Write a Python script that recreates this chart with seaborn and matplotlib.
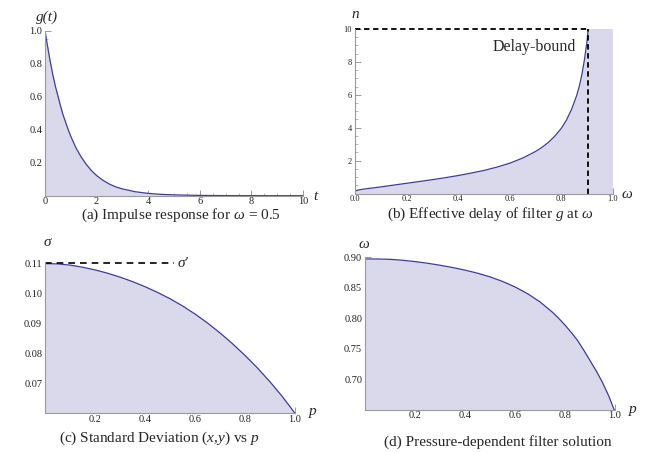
import numpy as np
import pandas as pd
import seaborn as sns
import matplotlib
matplotlib.use("Agg")
import matplotlib.pyplot as plt
from matplotlib.ticker import MultipleLocator, FixedLocator

# (a) impulse response g(t) for omega = 0.5
t_vals = [0, 0.1, 0.2, 0.3, 0.4, 0.5, 0.6, 0.7, 0.8, 0.9, 1.0, 1.2, 1.4, 1.6, 1.8, 2.0,
          2.25, 2.5, 2.75, 3.0, 3.5, 4.0, 4.5, 5.0, 6.0, 7.0, 8.0, 10.0]
g_vals = [1.0, 0.905, 0.815, 0.735, 0.665, 0.605, 0.545, 0.49, 0.445, 0.4, 0.36, 0.29, 0.235,
          0.19, 0.152, 0.122, 0.093, 0.07, 0.053, 0.041, 0.024, 0.014, 0.008, 0.005, 0.0018,
          0.0006, 0.0002, 0.0]

# (b) effective delay n vs omega
omega_vals = [0.0, 0.01, 0.03, 0.05, 0.1, 0.15, 0.2, 0.25, 0.3, 0.35, 0.4, 0.45, 0.5, 0.55,
              0.6, 0.65, 0.7, 0.725, 0.75, 0.775, 0.8, 0.82, 0.84, 0.86, 0.87, 0.88, 0.89, 0.9, 0.905]
n_vals = [0.15, 0.2, 0.26, 0.3, 0.4, 0.51, 0.62, 0.73, 0.84, 0.96, 1.09, 1.24, 1.4, 1.6,
          1.84, 2.15, 2.55, 2.8, 3.1, 3.48, 3.95, 4.45, 5.1, 5.95, 6.5, 7.2, 8.1, 9.2, 10.0]
OMEGA_BOUND = 0.905
DELAY_BOUND = 10

# (c) standard deviation sigma vs p
p_vals = [0.0, 0.05, 0.1, 0.15, 0.2, 0.25, 0.3, 0.35, 0.4, 0.45, 0.5,
          0.55, 0.6, 0.65, 0.7, 0.75, 0.8, 0.85, 0.9, 0.95, 1.0]
sigma_vals = [0.1099, 0.1098, 0.1094, 0.1087, 0.1078, 0.1067, 0.1054, 0.1039, 0.1022, 0.1003,
              0.0982, 0.0958, 0.0931, 0.0901, 0.0868, 0.0832, 0.0793, 0.0751, 0.0705, 0.0655, 0.0600]
SIGMA_PRIME = 0.11

# (d) pressure dependent filter omega vs p
p_vals_d = [0.0, 0.05, 0.1, 0.15, 0.2, 0.25, 0.3, 0.35, 0.4, 0.45, 0.5, 0.55, 0.6, 0.65,
            0.7, 0.75, 0.775, 0.8, 0.825, 0.85, 0.875, 0.9, 0.925, 0.95, 0.975, 1.0]
omega_d_vals = [0.8973, 0.8972, 0.8967, 0.8952, 0.893, 0.8903, 0.887, 0.8833, 0.879, 0.874,
                0.868, 0.8605, 0.8515, 0.8405, 0.827, 0.81, 0.8, 0.789, 0.777, 0.764, 0.748,
                0.731, 0.714, 0.695, 0.673, 0.647]

LINE = "#3d3d99"
FILL = "#d9d9eb"
AXC = "#9a9a9a"

sns.set_theme(style="white")
plt.rcParams['font.family'] = ['Liberation Serif', 'DejaVu Serif']
plt.rcParams['mathtext.fontset'] = 'custom'
plt.rcParams['mathtext.rm'] = 'Liberation Serif'
plt.rcParams['mathtext.it'] = 'Liberation Serif:italic'

W, H = 653, 453
fig = plt.figure(figsize=(W / 100, H / 100), dpi=100)


def addAxes(l, r, t, b):
    return fig.add_axes([l / W, 1 - b / H, (r - l) / W, (b - t) / H])


def estiloMathematica(ax, xmaj, xmin, ymaj, ymin, fmtx, fmty, tsize=7.5):
    for s in ['top', 'right']:
        ax.spines[s].set_visible(False)
    for s in ['left', 'bottom']:
        ax.spines[s].set_color(AXC)
        ax.spines[s].set_linewidth(0.8)
    ax.xaxis.set_major_locator(FixedLocator(xmaj))
    ax.yaxis.set_major_locator(FixedLocator(ymaj))
    ax.xaxis.set_minor_locator(MultipleLocator(xmin))
    ax.yaxis.set_minor_locator(MultipleLocator(ymin))
    ax.set_xticklabels([fmtx(v) for v in xmaj])
    ax.set_yticklabels([fmty(v) for v in ymaj])
    ax.tick_params(which='major', direction='in', length=4, width=0.7, color=AXC,
                   labelsize=tsize, labelcolor='#222222', pad=2)
    ax.tick_params(axis='x', which='major', pad=1)
    ax.tick_params(which='minor', direction='in', length=2, width=0.5, color=AXC)
    ax.tick_params(axis='both', which='both', bottom=True, left=True)
    ax.set_xlabel('')
    ax.set_ylabel('')
    ax.patch.set_alpha(0)


# (a)
ax1 = addAxes(45, 303, 30.7, 195.7)
df_a = pd.DataFrame({'t': t_vals, 'g': g_vals})
ax1.fill_between(df_a['t'], 0, df_a['g'], color=FILL, lw=0)
sns.lineplot(data=df_a, x='t', y='g', ax=ax1, color=LINE, lw=0.9)
ax1.set_xlim(0, 10)
ax1.set_ylim(0, 1.0)
estiloMathematica(ax1, [0, 2, 4, 6, 8, 10], 0.5, [0.2, 0.4, 0.6, 0.8, 1.0], 0.05,
                  lambda v: f'{v:g}', lambda v: f'{v:.1f}')
fig.text(47 / W, 1 - 17 / H, 'g(t)', fontsize=11, fontstyle='italic', ha='center', va='center')
fig.text(315 / W, 1 - 196 / H, 't', fontsize=11, fontstyle='italic', ha='center', va='center')
fig.text(181 / W, 1 - 215.5 / H, r'(a) Impulse response for $\omega$ = 0.5', fontsize=11, ha='center', va='center')

# (b)
ax2 = addAxes(355, 612.7, 29, 193.5)
df_b = pd.DataFrame({'omega': omega_vals, 'n': n_vals})
ax2.fill_between(df_b['omega'], 0, df_b['n'], color=FILL, lw=0)
ax2.fill_between([OMEGA_BOUND, 1.0], 0, DELAY_BOUND, color=FILL, lw=0)
sns.lineplot(data=df_b, x='omega', y='n', ax=ax2, color=LINE, lw=0.9)
ax2.plot([0, OMEGA_BOUND], [DELAY_BOUND, DELAY_BOUND], color='black', ls=(0, (3, 2)), lw=1.3, clip_on=False)
ax2.plot([OMEGA_BOUND, OMEGA_BOUND], [0, DELAY_BOUND], color='black', ls=(0, (3, 2)), lw=1.3, clip_on=False)
ax2.text(0.535, 8.9, 'Delay-bound', fontsize=11.5, ha='left', va='center')
ax2.set_xlim(0, 1.0)
ax2.set_ylim(0, 10)
estiloMathematica(ax2, [0, 0.2, 0.4, 0.6, 0.8, 1.0], 0.05, [2, 4, 6, 8, 10], 0.5,
                  lambda v: f'{v:.1f}', lambda v: f'{v:g}', tsize=6)
fig.text(355 / W, 1 - 15 / H, 'n', fontsize=11, fontstyle='italic', ha='center', va='center')
fig.text(627 / W, 1 - 195 / H, 'ω', fontsize=11, fontstyle='italic', ha='center', va='center')
fig.text(490 / W, 1 - 214 / H, r'(b) Effective delay of filter $g$ at $\omega$', fontsize=11, ha='center', va='center')

# (c)
ax3 = addAxes(45, 295, 261.8, 413.3)
df_c = pd.DataFrame({'p': p_vals, 'sigma': sigma_vals})
ax3.fill_between(df_c['p'], 0.06, df_c['sigma'], color=FILL, lw=0)
sns.lineplot(data=df_c, x='p', y='sigma', ax=ax3, color=LINE, lw=0.9)
ax3.plot([0, 0.515], [SIGMA_PRIME, SIGMA_PRIME], color='black', ls=(0, (4, 3)), lw=1.2)
ax3.text(0.53, SIGMA_PRIME, 'σ′', fontsize=11, fontstyle='italic', ha='left', va='center')
ax3.set_xlim(0, 1.0)
ax3.set_ylim(0.06, 0.1105)
estiloMathematica(ax3, [0.2, 0.4, 0.6, 0.8, 1.0], 0.05, [0.07, 0.08, 0.09, 0.10, 0.11], 0.002,
                  lambda v: f'{v:.1f}', lambda v: f'{v:.2f}')
fig.text(47 / W, 1 - 243 / H, 'σ', fontsize=11, fontstyle='italic', ha='center', va='center')
fig.text(313 / W, 1 - 411 / H, 'p', fontsize=11, fontstyle='italic', ha='center', va='center')
fig.text(159 / W, 1 - 438 / H, r'(c) Standard Deviation $(x{,}y)$ vs $p$', fontsize=11, ha='center', va='center')

# (d)
ax4 = addAxes(365, 615, 257, 410)
df_d = pd.DataFrame({'p': p_vals_d, 'omega': omega_d_vals})
ax4.fill_between(df_d['p'], 0.65, df_d['omega'], color=FILL, lw=0)
sns.lineplot(data=df_d, x='p', y='omega', ax=ax4, color=LINE, lw=0.9)
ax4.set_xlim(0, 1.0)
ax4.set_ylim(0.65, 0.9005)
estiloMathematica(ax4, [0.2, 0.4, 0.6, 0.8, 1.0], 0.05, [0.70, 0.75, 0.80, 0.85, 0.90], 0.01,
                  lambda v: f'{v:.1f}', lambda v: f'{v:.2f}')
fig.text(364 / W, 1 - 245 / H, 'ω', fontsize=11, fontstyle='italic', ha='center', va='center')
fig.text(633 / W, 1 - 410 / H, 'p', fontsize=11, fontstyle='italic', ha='center', va='center')
fig.text(498 / W, 1 - 442 / H, '(d) Pressure-dependent filter solution', fontsize=11, ha='center', va='center')

fig.savefig('out.png', dpi=100)
